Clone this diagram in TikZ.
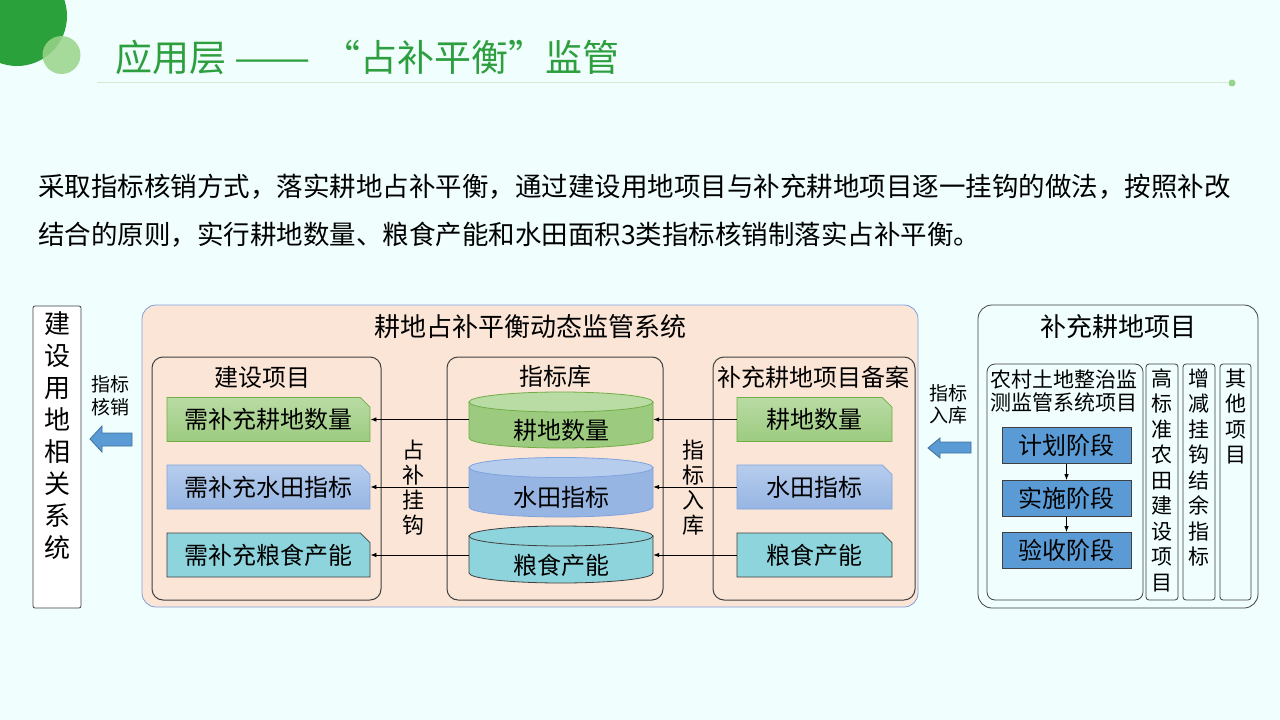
\documentclass[tikz,border=0pt]{standalone}
\usepackage{fontspec}
\usepackage{graphicx}
\setmainfont{Noto Sans CJK SC}
\usetikzlibrary{shapes.misc,arrows.meta}

\definecolor{bgcyan}{HTML}{F0FEFE}
\definecolor{titlegreen}{HTML}{2E9F3E}
\definecolor{darkgreen}{HTML}{2AA13A}
\definecolor{lightgreen}{HTML}{9AD48A}
\definecolor{rulegreen}{HTML}{D3EBD3}
\definecolor{peach}{HTML}{FBE5D6}
\definecolor{panelblue}{HTML}{7F9FDC}
\definecolor{boxline}{HTML}{404040}
\definecolor{grtop}{HTML}{B9DBA4}
\definecolor{grbot}{HTML}{9CCB80}
\definecolor{grline}{HTML}{70AD47}
\definecolor{bltop}{HTML}{B6CDED}
\definecolor{blbot}{HTML}{96B5E3}
\definecolor{blline}{HTML}{7FA3DD}
\definecolor{tlfill}{HTML}{8ED4DC}
\definecolor{stageblue}{HTML}{5B9BD5}
\definecolor{arrowline}{HTML}{41719C}

\newcommand\fs[2]{\fontsize{#1}{#2}\selectfont}
% cylinder: cx, y top, y bottom, body, top, line
\newcommand\drum[6]{%
  \filldraw[fill=#4, draw=#6, line width=0.8pt] (#1-92,#2) -- (#1-92,#3)
    arc[start angle=180, end angle=360, x radius=92pt, y radius=10pt] -- (#1+92,#2) -- cycle;
  \filldraw[fill=#5, draw=#6, line width=0.8pt] (#1,#2) ellipse [x radius=92pt, y radius=10pt];
}

\tikzset{
  panel/.style={rounded corners=14pt, line width=0.8pt},
  group/.style={draw=boxline, rounded corners=11pt, line width=1pt},
  tag/.style={chamfered rectangle, chamfered rectangle corners=north east,
    chamfered rectangle xsep=6pt, inner sep=0pt, minimum height=44pt,
    line width=0.8pt, font=\fs{24}{28}},
  stage/.style={fill=stageblue, draw=boxline, line width=0.8pt, minimum width=129pt,
    minimum height=36pt, inner sep=0pt, font=\fs{24}{28}},
  flow/.style={-{Latex[length=6pt,width=4.5pt]}, line width=0.8pt},
  blockarrow/.style={fill=stageblue, draw=arrowline, line width=0.8pt},
}

\begin{document}
\begin{tikzpicture}[x=1pt,y=-1pt]
  % Page
  \fill[bgcyan] (0,0) rectangle (1280,720);
  \useasboundingbox (0,0) rectangle (1280,720);

  % Header
  \fill[darkgreen] (17,16) circle (50pt);
  \fill[lightgreen, opacity=0.85] (61.5,55) circle (19pt);
  \draw[rulegreen, line width=0.8pt] (97,82) -- (1228,82);
  \fill[lightgreen] (1232,83) circle (3.5pt);
  \node[anchor=west, inner sep=0pt, text=titlegreen, font=\fs{37}{44}] (title) at (115,57)
    {应用层 \scalebox{1.23}[1]{——}\makebox[50pt][r]{“}占补平衡\makebox[37pt][l]{”}监管};

  % Intro text
  \node[anchor=west, inner sep=0pt, font=\fs{26.5}{32}] (intro1) at (38,187)
    {采取指标核销方式，落实耕地占补平衡，通过建设用地项目与补充耕地项目逐一挂钩的做法，按照补改};
  \node[anchor=west, inner sep=0pt, font=\fs{26.5}{32}] (intro2) at (38,235)
    {结合的原则，实行耕地数量、粮食产能和水田面积3类指标核销制落实占补平衡。};

  % Left system
  \filldraw[fill=white, draw=boxline, line width=0.8pt, rounded corners=2pt] (33,306) rectangle (81,608);
  \node[align=center, inner sep=0pt, font=\fs{26}{32.1}] (landsys) at (57,435.5)
    {建\\设\\用\\地\\相\\关\\系\\统};
  \filldraw[blockarrow] (90,439) -- (102,426) -- (102,433) -- (132,433) -- (132,446)
    -- (102,446) -- (102,452) -- cycle;
  \node[align=center, inner sep=0pt, font=\fs{19}{23}] (writeoff) at (110,396) {指标\\核销};

  % Monitoring system
  \filldraw[panel, fill=peach, draw=panelblue] (142,305) rectangle (918,607);
  \node[font=\fs{26}{30}] (systitle) at (530,327) {耕地占补平衡动态监管系统};
  \draw[group] (152,357) rectangle (381,600);
  \draw[group] (447,357) rectangle (663,600);
  \draw[group] (713,357) rectangle (915,600);
  \node[font=\fs{24}{28}] (buildtitle) at (262,377) {建设项目};
  \node[font=\fs{24}{28}] (storetitle) at (555,376) {指标库};
  \node[font=\fs{24}{28}] (filetitle) at (813,377) {补充耕地项目备案};

  % Construction projects
  \node[tag, minimum width=203pt, top color=grtop, bottom color=grbot, draw=grline] (needgd) at (268.5,419.5) {需补充耕地数量};
  \node[tag, minimum width=203pt, top color=bltop, bottom color=blbot, draw=blline] (needsw) at (268.5,487) {需补充水田指标};
  \node[tag, minimum width=203pt, fill=tlfill, draw=boxline] (needls) at (268.5,555) {需补充粮食产能};

  % Index store
  \drum{561}{402}{438}{grbot}{grtop}{grline}
  \drum{561}{467.5}{507}{blbot}{bltop}{blline}
  \drum{561}{536}{573}{tlfill}{tlfill}{boxline}
  \node[minimum width=184pt, inner sep=0pt, font=\fs{24}{28}] (storegd) at (561,430) {耕地数量};
  \node[minimum width=184pt, inner sep=0pt, font=\fs{24}{28}] (storesw) at (561,497) {水田指标};
  \node[minimum width=184pt, inner sep=0pt, font=\fs{24}{28}] (storels) at (561,565) {粮食产能};

  % Filed projects
  \node[tag, minimum width=155pt, top color=grtop, bottom color=grbot, draw=grline] (filegd) at (814.5,419.5) {耕地数量};
  \node[tag, minimum width=155pt, top color=bltop, bottom color=blbot, draw=blline] (filesw) at (814.5,487) {水田指标};
  \node[tag, minimum width=155pt, fill=tlfill, draw=boxline] (filels) at (814.5,555) {粮食产能};

  % Links
  \draw[flow] (filegd.west) -- (filegd.west -| storegd.east);
  \draw[flow] (filesw.west) -- (filesw.west -| storesw.east);
  \draw[flow] (filels.west) -- (filels.west -| storels.east);
  \draw[flow] (storegd.west |- needgd.east) -- (needgd.east);
  \draw[flow] (storesw.west |- needsw.east) -- (needsw.east);
  \draw[flow] (storels.west |- needls.east) -- (needls.east);
  \node[align=center, inner sep=0pt, font=\fs{22}{25}] (hook) at (413,487.5) {占\\补\\挂\\钩};
  \node[align=center, inner sep=0pt, font=\fs{22}{25}] (stockin) at (693,487.5) {指\\标\\入\\库};

  % Supplementary projects
  \filldraw[blockarrow] (928,448) -- (940,438) -- (940,442) -- (971,442) -- (971,453)
    -- (940,453) -- (940,458) -- cycle;
  \node[align=center, inner sep=0pt, font=\fs{19}{22}] (stockin2) at (948,404) {指标\\入库};
  \draw[panel, draw=boxline] (978,305) rectangle (1258,608);
  \node[font=\fs{26}{30}] (supptitle) at (1118,327) {补充耕地项目};
  \draw[boxline, line width=0.8pt, rounded corners=8pt] (987,364) rectangle (1143,600);
  \draw[boxline, line width=0.8pt, rounded corners=3pt] (1146,364) rectangle (1178,600);
  \draw[boxline, line width=0.8pt, rounded corners=3pt] (1183,364) rectangle (1215,600);
  \draw[boxline, line width=0.8pt, rounded corners=3pt] (1220,364) rectangle (1251,600);
  \node[align=center, inner sep=0pt, font=\fs{21}{23}] (rural) at (1064,391.5) {农村土地整治监\\测监管系统项目};
  \node[stage] (plan) at (1066.5,445.5) {计划阶段};
  \node[stage] (build) at (1066.5,498.5) {实施阶段};
  \node[stage] (check) at (1066.5,550.5) {验收阶段};
  \draw[flow] (plan) -- (build);
  \draw[flow] (build) -- (check);
  \node[align=center, inner sep=0pt, font=\fs{21}{25.5}] (highstd) at (1162,480) {高\\标\\准\\农\\田\\建\\设\\项\\目};
  \node[align=center, inner sep=0pt, font=\fs{21}{25.5}] (linkage) at (1199,467.5) {增\\减\\挂\\钩\\结\\余\\指\\标};
  \node[align=center, inner sep=0pt, font=\fs{21}{25.5}] (others) at (1235.5,416.5) {其\\他\\项\\目};
\end{tikzpicture}
\end{document}
